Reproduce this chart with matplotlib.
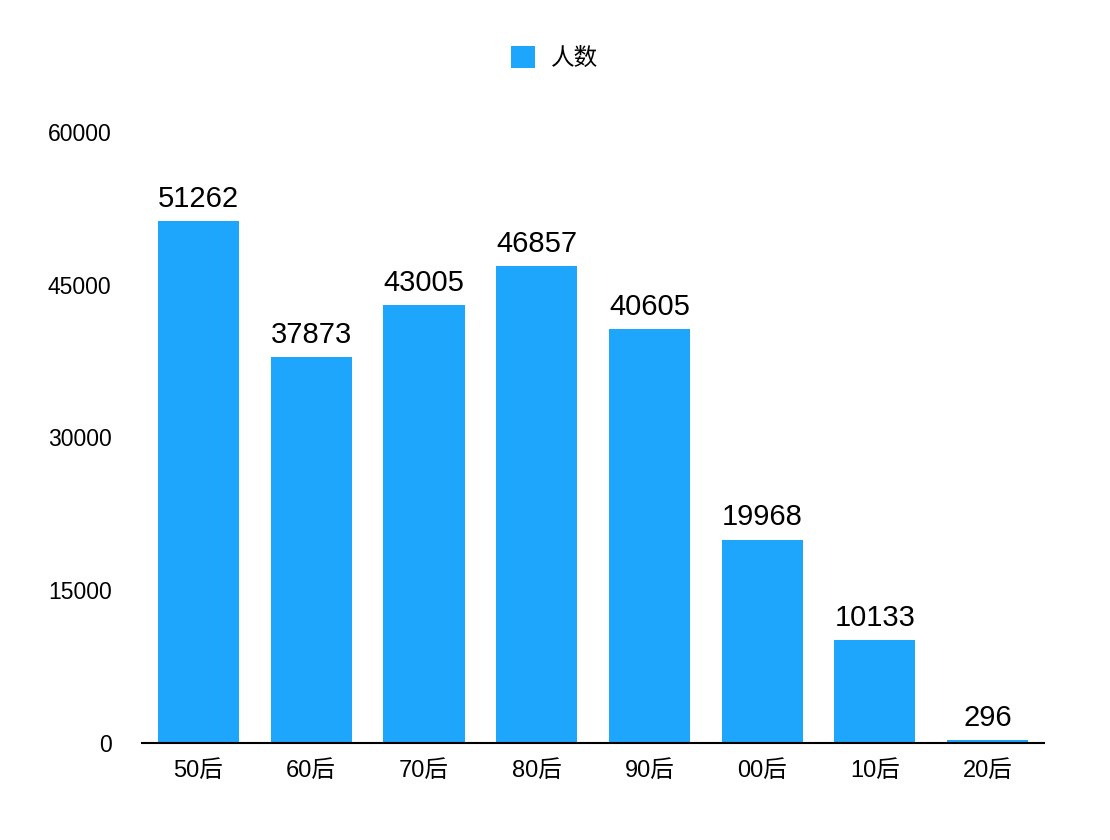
import matplotlib.pyplot as plt

plt.rcParams['font.family'] = ['Liberation Sans', 'Noto Sans CJK SC', 'DejaVu Sans']

categories = ['50后', '60后', '70后', '80后', '90后', '00后', '10后', '20后']
counts = [51262, 37873, 43005, 46857, 40605, 19968, 10133, 296]
y_ticks = [0, 15000, 30000, 45000, 60000]

fig = plt.figure(figsize=(11.1, 8.4), dpi=100)
ax = fig.add_axes([0.128, 0.1155, 0.8125, 0.7275])

bars = ax.bar(range(len(categories)), counts, width=0.72, color='#1EA5FC', label='人数')
for b, v in zip(bars, counts):
    ax.text(b.get_x() + b.get_width() / 2, v + 800, str(v),
            ha='center', va='bottom', fontsize=21)

ax.set_xlim(-0.5, len(categories) - 0.5)
ax.set_ylim(0, 60000)
ax.set_xticks(range(len(categories)))
ax.set_xticklabels(categories, fontsize=17)
ax.set_yticks(y_ticks)
ax.set_yticklabels([str(t) for t in y_ticks], fontsize=16.5)
ax.tick_params(axis='y', length=0, pad=22)
ax.tick_params(axis='x', length=0, pad=12)

for s in ['top', 'right', 'left']:
    ax.spines[s].set_visible(False)
ax.spines['bottom'].set_linewidth(1.5)

fig.legend(loc='upper center', bbox_to_anchor=(0.5, 0.97), frameon=False,
           fontsize=17, handlelength=1.0, handleheight=1.0, handletextpad=0.7)

fig.savefig('out.png', dpi=100)
